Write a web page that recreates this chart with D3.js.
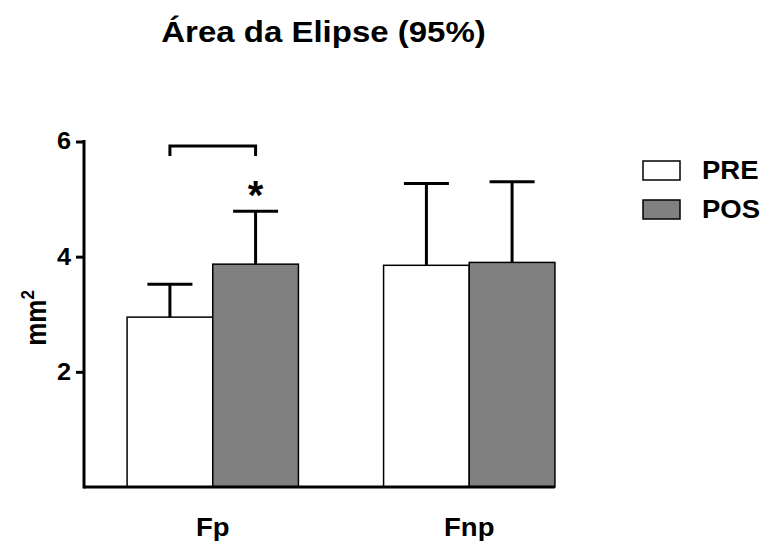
<!DOCTYPE html>
<html>
<head>
<meta charset="utf-8">
<script src="https://cdn.jsdelivr.net/npm/d3@7"></script>
<style>
  body { margin: 0; background: #fff; }
  text { font-family: "Liberation Sans", Arial, sans-serif; font-weight: bold; }
</style>
</head>
<body>
<svg width="762" height="544"></svg>
<script>
// chart data
const groups = ["Fp", "Fnp"];
const series = ["PRE", "POS"];
const means = [[2.95, 3.87], [3.85, 3.90]];   // [group][series]
const errTop = [[3.52, 4.79], [5.27, 5.30]];  // mean + error
const yTicks = [2, 4, 6];
const colors = ["#ffffff", "#808080"];

const SX = 1.1; // text in the original looks a bit wide

const svg = d3.select("svg");

// text helper: positioned, slightly stretched horizontally
function label(x, y, str, size, anchor) {
    return svg.append("text")
	.attr("transform", `translate(${x},${y}) scale(${SX},1)`)
	.attr("text-anchor", anchor || "middle")
	.attr("font-size", size)
	.text(str);
}

const y = d3.scaleLinear().domain([0, 6]).range([487, 141.5]);

const x0 = d3.scaleBand()
    .domain(groups)
    .range([84, 598])
    .paddingInner(0.332)
    .paddingOuter(0.168);

const x1 = d3.scaleBand()
    .domain(series)
    .range([0, x0.bandwidth()]);

// title
label(323.5, 42, "Área da Elipse (95%)", 30);

// bars
const g = svg.append("g");
groups.forEach((grp, i) => {
    series.forEach((s, j) => {
	const bx = x0(grp) + x1(s), w = x1.bandwidth();
	const cx = bx + w / 2;
	// error bar (upper only)
	g.append("line")
	    .attr("x1", cx).attr("x2", cx)
	    .attr("y1", y(means[i][j])).attr("y2", y(errTop[i][j]))
	    .attr("stroke", "#000").attr("stroke-width", 3);
	g.append("line")
	    .attr("x1", cx - 22.5).attr("x2", cx + 22.5)
	    .attr("y1", y(errTop[i][j])).attr("y2", y(errTop[i][j]))
	    .attr("stroke", "#000").attr("stroke-width", 3);
	g.append("rect")
	    .attr("x", bx).attr("y", y(means[i][j]))
	    .attr("width", w).attr("height", y(0) - y(means[i][j]))
	    .attr("fill", colors[j])
	    .attr("stroke", "#000").attr("stroke-width", 1.5);
    });
});

// significance bracket + star on Fp
const bxL = x0("Fp") + x1.bandwidth() / 2;
const bxR = x0("Fp") + x1("POS") + x1.bandwidth() / 2;
const by = 146;
svg.append("path")
    .attr("d", `M${bxL},${by + 10}V${by}H${bxR}V${by + 10}`)
    .attr("fill", "none").attr("stroke", "#000").attr("stroke-width", 3);
svg.append("text")
    .attr("x", bxR).attr("y", 209)
    .attr("text-anchor", "middle")
    .attr("font-size", 40)
    .text("*");

// y axis
const yAxis = svg.append("g")
    .attr("transform", "translate(84,0)")
    .call(d3.axisLeft(y).tickValues(yTicks).tickFormat(d3.format("d"))
	  .tickSize(8).tickPadding(4).tickSizeOuter(0));
yAxis.select(".domain").remove();
yAxis.append("line")
    .attr("x1", 0).attr("x2", 0)
    .attr("y1", y(6) - 1.5).attr("y2", y(0) + 1.5)
    .attr("stroke", "#000").attr("stroke-width", 3);
yAxis.selectAll(".tick line").attr("stroke-width", 3);
yAxis.selectAll(".tick text")
    .attr("x", null)
    .attr("transform", `translate(-13,0) scale(${SX},1)`)
    .attr("font-size", 23)
    .attr("font-family", "Liberation Sans, Arial, sans-serif")
    .attr("font-weight", "bold")
    .attr("fill", "#000");

// x axis line
svg.append("line")
    .attr("x1", 84).attr("x2", x0("Fnp") + x0.bandwidth())
    .attr("y1", y(0)).attr("y2", y(0))
    .attr("stroke", "#000").attr("stroke-width", 3);

// x labels
groups.forEach(d => label(x0(d) + x0.bandwidth() / 2, 536, d, 25));

// y label
const yl = svg.append("text")
    .attr("transform", `translate(46,318) scale(${SX},1) rotate(-90)`)
    .attr("text-anchor", "middle")
    .attr("font-size", 26);
yl.append("tspan").text("mm");
yl.append("tspan").attr("dy", -11).attr("font-size", 17).text("2");

// legend
const leg = svg.append("g").attr("transform", "translate(643,161)");
series.forEach((s, j) => {
    leg.append("rect")
	.attr("x", 0).attr("y", j * 39)
	.attr("width", 37).attr("height", 19)
	.attr("fill", colors[j])
	.attr("stroke", "#000").attr("stroke-width", 1.5);
    label(702, 161 + j * 39 + 18, s, 25, "start");
});
</script>
</body>
</html>
